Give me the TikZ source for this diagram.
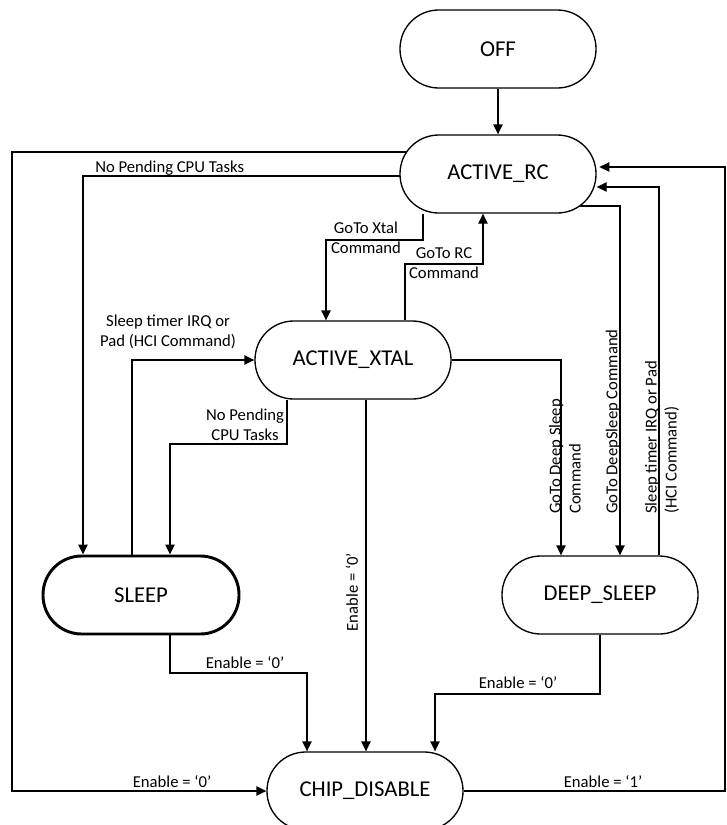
\documentclass[tikz,border=0pt]{standalone}
\usepackage{fontspec}
\setmainfont{Carlito}
\usetikzlibrary{arrows.meta,backgrounds}
\begin{document}
\begin{tikzpicture}[x=0.75pt,y=-0.75pt,
  state/.style={draw,line width=1pt,fill=white,rounded corners=29pt,minimum width=147pt,minimum height=58.5pt,inner sep=0pt,font=\fontsize{17}{20}\selectfont},
  arr/.style={line width=1pt,-{Triangle[length=7.5pt,width=7pt]}},
  lbl/.style={inner sep=0pt,align=center,font=\fontsize{12.5}{15}\selectfont}]
\useasboundingbox (0,0) rectangle (726,825);
        \node[state] (off) at (498,49) {OFF};
        \node[state] (rc) at (498,174) {ACTIVE\_RC};
        \node[state] (xtal) at (353,360) {ACTIVE\_XTAL};
        \node[state,line width=2.2pt] (sleep) at (141,595) {SLEEP};
        \node[state] (deep) at (600,595) {DEEP\_SLEEP};
        \node[state] (chip) at (365,791) {CHIP\_DISABLE};
        \begin{scope}[on background layer]
        \draw[arr](off.south) -- (rc.north);
        \draw[arr](rc.center |- 0,152) -- (12,152) -- (12,791) -- (chip.west);
        \draw[arr](rc.center |- 0,176) -| (sleep.north -| 83,0);
        \draw[arr](rc.south -| 423,0) |- (326,240) -- (xtal.north -| 326,0);
        \draw[arr](xtal.north -| 405,0) |- (483,264) -- (rc.south -| 483,0);
        \draw[arr](sleep.north -| 132,0) |- (xtal.west);
        \draw[arr](xtal.south -| 287,0) |- (170,444) -- (sleep.north -| 170,0);
        \draw[arr](xtal.south -| 366,0) -- (chip.north -| 366,0);
        \draw[arr](xtal.east) -| (deep.north -| 561,0);
        \draw[arr](rc.center |- 0,206) -| (deep.north -| 620,0);
        \draw[arr](deep.north -| 659,0) |- (rc.east |- 0,187);
        \draw[arr](sleep.south -| 170,0) |- (307,673) -- (chip.north -| 307,0);
        \draw[arr](deep.south) |- (435,694) -- (chip.north -| 435,0);
        \draw[arr](chip.east) -- (725,791) -- (725,167) -- ([xshift=2pt]rc.east |- 0,167);
        \end{scope}
        \node[lbl] (enoff) at (172,782) {Enable = ‘0’};
        \node[lbl] (enon) at (603,782) {Enable = ‘1’};
        \node[lbl,anchor=west] (idlerc) at (95,168) {No Pending CPU Tasks};
        \node[lbl] (toxtal) at (366,238) {GoTo Xtal\\Command};
        \node[lbl] (torc) at (444,263) {GoTo RC\\Command};
        \node[lbl] (wake) at (168,332) {Sleep timer IRQ or\\Pad (HCI Command)};
        \node[lbl] (idlextal) at (245,425) {No Pending\\CPU Tasks};
        \node[lbl,rotate=90] (enxtal) at (352,592) {Enable = ‘0’};
        \node[lbl] (ensleep) at (245,663) {Enable = ‘0’};
        \node[lbl] (endeep) at (518,683) {Enable = ‘0’};
        \node[lbl,rotate=90,anchor=west,align=left] (todeep) at (565,514) {GoTo Deep Sleep\\Command};
        \node[lbl,rotate=90,anchor=west] (todeeprc) at (613,514) {GoTo DeepSleep Command};
        \node[lbl,rotate=90,anchor=west,align=left] (wakedeep) at (662,514) {Sleep timer IRQ or Pad\\(HCI Command)};
\end{tikzpicture}
\end{document}
